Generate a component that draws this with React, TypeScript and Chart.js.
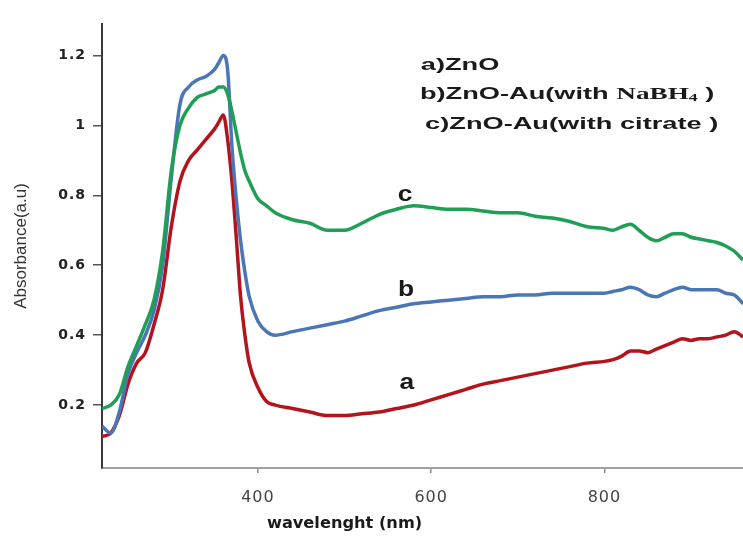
import React, { useEffect, useRef } from 'react';
import { Chart, registerables } from 'chart.js';

Chart.register(...registerables);

// ---- data ----
const WAVELENGTH_NM = [
  220, 230, 240, 250, 260, 270, 280, 290, 300, 310, 320, 330, 340, 350,
  355, 360, 365, 370, 375, 380, 385, 390,
  400, 410, 420,
  440, 460, 480, 500, 520, 540, 560, 580, 600, 620, 640, 660, 680, 700, 720, 740, 760, 780, 800,
  810, 820, 830, 840, 850, 860, 870, 880, 890, 900, 910, 920, 930, 940, 950, 960,
];

const ABS_A_ZNO = [
  0.11, 0.12, 0.17, 0.26, 0.32, 0.35, 0.43, 0.53, 0.71, 0.84, 0.90, 0.93, 0.96, 0.99,
  1.01, 1.03, 0.96, 0.84, 0.68, 0.51, 0.40, 0.32,
  0.25, 0.21, 0.20,
  0.19, 0.18, 0.17, 0.17, 0.175, 0.18, 0.19, 0.20, 0.215, 0.23, 0.245, 0.26, 0.27, 0.28, 0.29, 0.30, 0.31, 0.32, 0.325,
  0.33, 0.34, 0.355, 0.355, 0.35, 0.36, 0.37, 0.38, 0.39, 0.385, 0.39, 0.39, 0.395, 0.40, 0.41, 0.395,
];

const ABS_B_NABH4 = [
  0.14, 0.12, 0.18, 0.29, 0.35, 0.40, 0.47, 0.60, 0.85, 1.06, 1.11, 1.13, 1.14, 1.16,
  1.18, 1.20, 1.16, 0.94, 0.79, 0.67, 0.58, 0.51,
  0.44, 0.41, 0.40,
  0.41, 0.42, 0.43, 0.44, 0.455, 0.47, 0.48, 0.49, 0.495, 0.50, 0.505, 0.51, 0.51, 0.515, 0.515, 0.52, 0.52, 0.52, 0.52,
  0.525, 0.53, 0.537, 0.53, 0.515, 0.51, 0.52, 0.53, 0.537, 0.53, 0.53, 0.53, 0.53, 0.52, 0.515, 0.49,
];

const ABS_C_CITRATE = [
  0.19, 0.20, 0.23, 0.31, 0.37, 0.43, 0.50, 0.64, 0.87, 1.00, 1.05, 1.08, 1.09, 1.10,
  1.11, 1.11, 1.09, 1.04, 0.98, 0.92, 0.87, 0.84,
  0.79, 0.77, 0.75,
  0.73, 0.72, 0.70, 0.70, 0.72, 0.745, 0.76, 0.77, 0.765, 0.76, 0.76, 0.755, 0.75, 0.75, 0.74, 0.735, 0.725, 0.71, 0.705,
  0.70, 0.71, 0.717, 0.70, 0.68, 0.67, 0.68, 0.69, 0.69, 0.68, 0.675, 0.67, 0.665, 0.655, 0.64, 0.615,
];

const SERIES_NAMES = ['a)ZnO', 'b)ZnO-Au(with NaBH4 )', 'c)ZnO-Au(with citrate )'];
const CURVE_TAGS = ['a', 'b', 'c'];
const X_TICKS = [400, 600, 800];
const Y_TICKS = [0.2, 0.4, 0.6, 0.8, 1, 1.2];
const X_TITLE = 'wavelenght (nm)';
const Y_TITLE = 'Absorbance(a.u)';

// ---- styles / annotation placement (data units) ----
const COLORS = ['#b3141c', '#4a76b5', '#1f9f55'];
const TAG_NM = [572, 571, 570];
const TAG_ABS = [0.262, 0.53, 0.802];
const X_TITLE_NM = 500;
const LEGEND_NM = [588, 587, 593];
const LEGEND_ABS = [1.173, 1.088, 1.002];

function drawRuns(ctx: CanvasRenderingContext2D, runs: { text: string; font: string; dy?: number }[], x: number, y: number, sx: number) {
  let cx = x;
  runs.forEach((r) => {
    ctx.font = r.font;
    const w = ctx.measureText(r.text).width;
    ctx.save();
    ctx.translate(cx, y + (r.dy || 0));
    ctx.scale(sx, 1);
    ctx.textAlign = 'left';
    ctx.fillText(r.text, 0, 0);
    ctx.restore();
    cx += w * sx;
  });
}

function drawScaled(ctx: CanvasRenderingContext2D, text: string, x: number, y: number, sx: number) {
  ctx.save();
  ctx.translate(x, y);
  ctx.scale(sx, 1);
  ctx.textAlign = 'center';
  ctx.fillText(text, 0, 0);
  ctx.restore();
}

const spacingPlugin = {
  id: 'tickSpacing',
  afterDatasetsDraw(chart: any) {
    chart.ctx.letterSpacing = '1px';
  },
  afterDraw(chart: any) {
    chart.ctx.letterSpacing = '0px';
  },
};

const textPlugin = {
  id: 'extraText',
  afterDraw(chart: any) {
    const ctx: CanvasRenderingContext2D = chart.ctx;
    const xs = chart.scales.x;
    const ys = chart.scales.y;
    ctx.save();
    (ctx as any).letterSpacing = '0px';
    ctx.fillStyle = '#1a1a1a';
    ctx.textBaseline = 'middle';

    // curve tags
    ctx.font = 'bold 22px "Liberation Sans", Arial, sans-serif';
    CURVE_TAGS.forEach((t, i) => {
      drawScaled(ctx, t, xs.getPixelForValue(TAG_NM[i]), ys.getPixelForValue(TAG_ABS[i]), 1.2);
    });

    // x title
    ctx.font = 'bold 15px "DejaVu Sans", sans-serif';
    drawScaled(ctx, X_TITLE, xs.getPixelForValue(X_TITLE_NM), xs.bottom - 12, 1.08);

    // legend
    const sans = 'bold 17px "Liberation Sans", Arial, sans-serif';
    const serif = 'bold 17px "Liberation Serif", "Times New Roman", serif';
    const sub = 'bold 11px "Liberation Serif", "Times New Roman", serif';
    const lines = [
      [{ text: 'a)ZnO', font: sans }],
      [
        { text: 'b)ZnO-Au(with ', font: sans },
        { text: 'NaBH', font: serif },
        { text: '4', font: sub, dy: 4 },
        { text: ' )', font: sans },
      ],
      [{ text: 'c)ZnO-Au(with citrate )', font: sans }],
    ];
    lines.forEach((runs, i) => {
      drawRuns(ctx, runs, xs.getPixelForValue(LEGEND_NM[i]), ys.getPixelForValue(LEGEND_ABS[i]), 1.6);
    });
    ctx.restore();
  },
};

export default function App() {
  const ref = useRef<HTMLCanvasElement>(null);

  useEffect(() => {
    const canvas = ref.current;
    if (!canvas) return;
    const mk = (vals: number[]) => WAVELENGTH_NM.map((x, i) => ({ x, y: vals[i] }));
    const series = [ABS_A_ZNO, ABS_B_NABH4, ABS_C_CITRATE];
    const order = [2, 1, 0];
    const chart = new Chart(canvas, {
      type: 'line',
      data: {
        datasets: order.map((k) => ({
          label: SERIES_NAMES[k],
          data: mk(series[k]),
          borderColor: COLORS[k],
          backgroundColor: COLORS[k],
          borderWidth: 3.5,
          pointRadius: 0,
          tension: 0.3,
          cubicInterpolationMode: 'monotone' as const,
          fill: false,
        })),
      },
      options: {
        responsive: false,
        animation: false,
        devicePixelRatio: 1,
        layout: { padding: { top: 24, left: 0, right: 0, bottom: 0 } },
        plugins: {
          legend: { display: false },
          tooltip: { enabled: false },
        },
        scales: {
          x: {
            type: 'linear',
            min: 220,
            max: 960,
            afterBuildTicks: (s: any) => {
              s.ticks = X_TICKS.map((value) => ({ value }));
            },
            afterFit: (s: any) => {
              s.height = 68;
            },
            grid: { drawOnChartArea: false, drawTicks: true, tickLength: 5, color: '#8a8a8a', lineWidth: 1.5 },
            border: { display: true, color: '#a0a0a0', width: 2 },
            ticks: {
              z: 1,
              padding: 15,
              color: '#444',
              autoSkip: false,
              maxRotation: 0,
              font: { family: '"DejaVu Sans", sans-serif', size: 16 },
              callback: (v: any) => String(v),
            },
          },
          y: {
            type: 'linear',
            min: 0.02,
            max: 1.29,
            afterBuildTicks: (s: any) => {
              s.ticks = Y_TICKS.map((value) => ({ value }));
            },
            afterFit: (s: any) => {
              s.width = 102;
            },
            grid: { drawOnChartArea: false, drawTicks: true, tickLength: 9, color: '#555', lineWidth: 1.5 },
            border: { display: true, color: '#3a3a3a', width: 2 },
            ticks: {
              z: 1,
              padding: 7,
              color: '#222',
              font: { family: '"DejaVu Sans", sans-serif', size: 14, weight: 'bold' },
              callback: (v: any) => String(parseFloat(Number(v).toFixed(1))),
            },
            title: {
              display: true,
              text: Y_TITLE,
              color: '#333',
              font: { family: '"Liberation Sans", Arial, sans-serif', size: 17 },
              padding: { top: 11, bottom: 0 },
            },
          },
        },
      } as any,
      plugins: [spacingPlugin, textPlugin],
    });
    return () => chart.destroy();
  }, []);

  return (
    <div style={{ position: 'fixed', left: 0, top: 0, width: 743, height: 536, background: '#fff' }}>
      <canvas ref={ref} width={743} height={536} style={{ display: 'block' }} />
    </div>
  );
}
